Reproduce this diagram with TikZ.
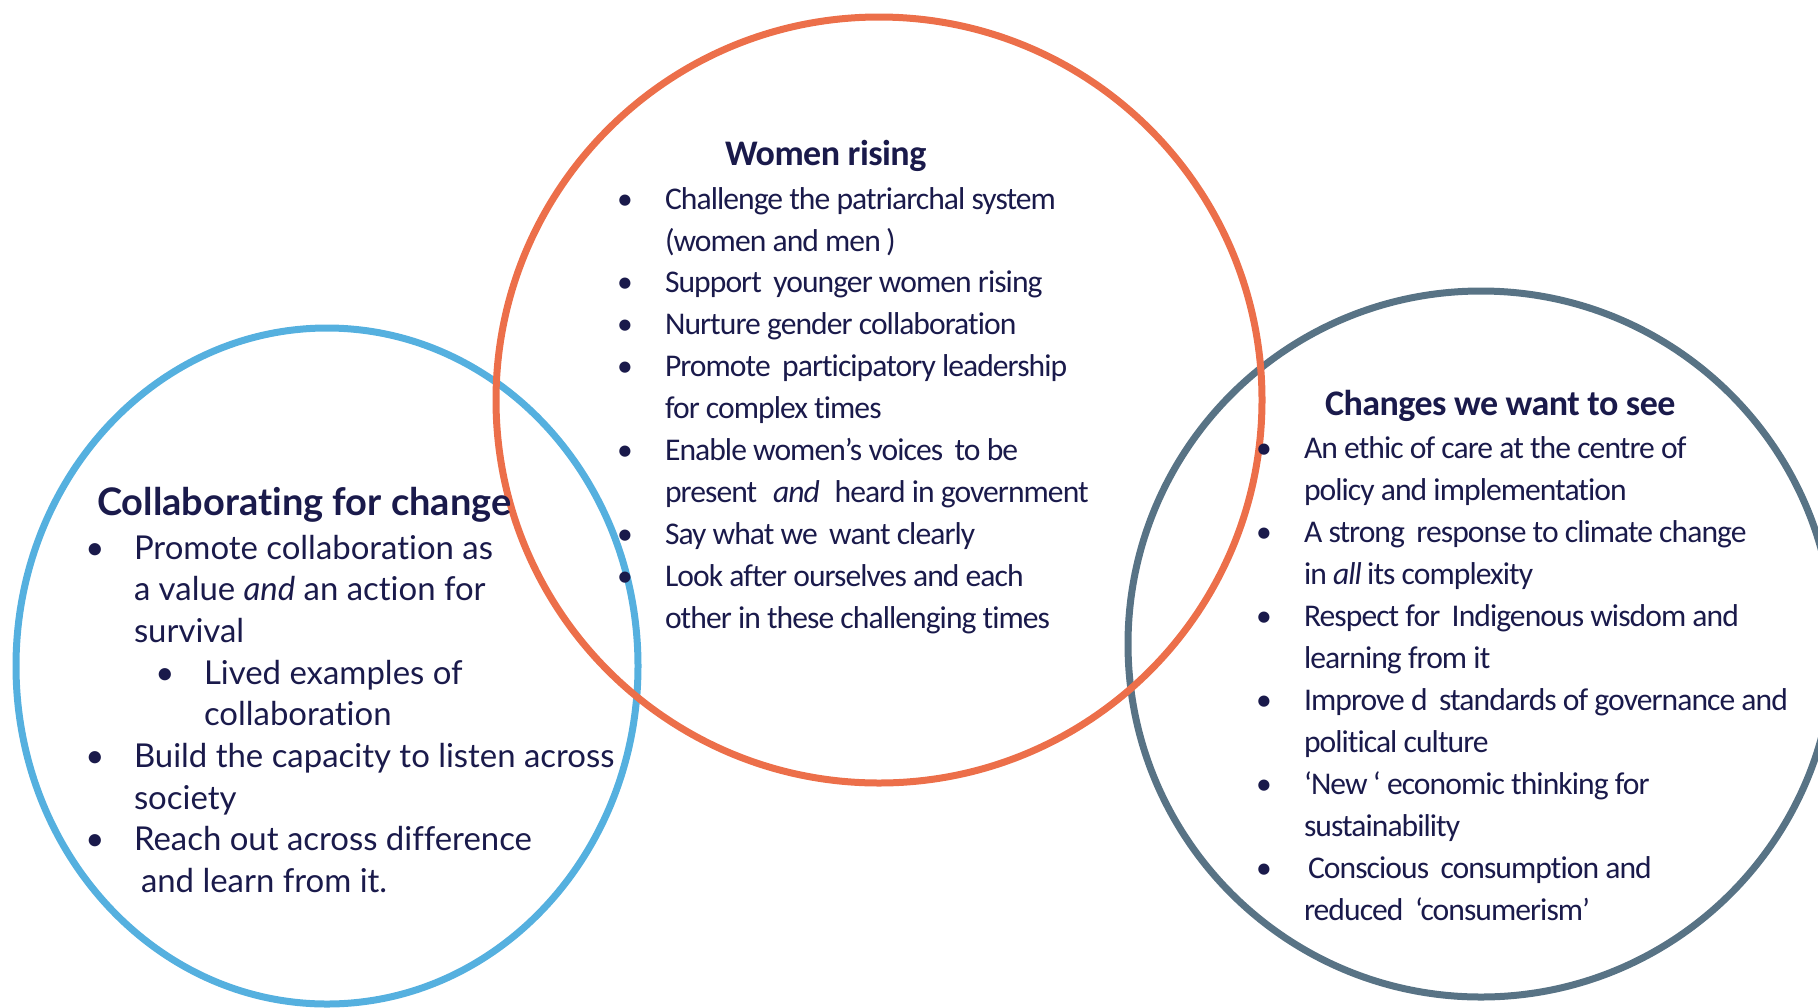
\documentclass[tikz,border=0pt]{standalone}
\usepackage{fontspec}
% Body and headings of the two right-hand circles: Calibri metrics, tight tracking
\newfontfamily\bodyfont[LetterSpace=-3, Ligatures=NoCommon]{Carlito}
\newfontfamily\headfont[LetterSpace=-1.5, Ligatures=NoCommon]{Carlito}
% Humanist sans for the left-hand circle
\newfontfamily\humfont[Ligatures=NoCommon]{Lato}

\definecolor{ink}{HTML}{1A1A4B}
\definecolor{ringorange}{HTML}{EC6F4A}
\definecolor{ringblue}{HTML}{55B0DF}
\definecolor{ringgray}{HTML}{587385}

\begin{document}
\begin{tikzpicture}[x=0.5pt, y=-0.5pt,
  ring/.style={line width=3.5pt},
  txt/.style={anchor=base west, inner sep=0pt, outer sep=0pt, text=ink},
  bul/.style={anchor=base, inner sep=0pt, outer sep=0pt, text=ink},
  humtitle/.style={txt, font=\humfont\bfseries\fontsize{19}{22}\selectfont},
  humbody/.style={txt, font=\humfont\fontsize{16.45}{20}\selectfont},
  humbul/.style={bul, font=\humfont\fontsize{16.45}{20}\selectfont},
  caltitle/.style={txt, font=\headfont\bfseries\fontsize{18}{21}\selectfont},
  calbody/.style={txt, font=\bodyfont\fontsize{15.8}{19}\selectfont},
  calbul/.style={bul, font=\bodyfont\fontsize{15.8}{19}\selectfont}]

\useasboundingbox (0,0) rectangle (1818,1007);

% the three circles
\draw[ring, draw=ringblue] (327,666) ellipse [x radius=311, y radius=338];
\draw[ring, draw=ringgray] (1481,644) circle [radius=353];
\draw[ring, draw=ringorange] (879,400) circle [radius=383];

% ---- Collaborating for change ----
\node[humtitle] (ct) at (97,515) {Collaborating for change};
\node[humbul] (cb1) at (95,559) {•};
\node[humbody] (c1) at (134,559) {Promote collaboration as};
\node[humbody] (c2) at (134,600.7) {a value \textit{and} an action for};
\node[humbody] (c3) at (134,642.4) {survival};
\node[humbul] (cb2) at (165,684.1) {•};
\node[humbody] (c4) at (204,684.1) {Lived examples of};
\node[humbody] (c5) at (204,725.8) {collaboration};
\node[humbul] (cb3) at (95,767.5) {•};
\node[humbody] (c6) at (134,767.5) {Build the capacity to listen across};
\node[humbody] (c7) at (134,809.2) {society};
\node[humbul] (cb4) at (95,850.9) {•};
\node[humbody] (c8) at (134,850.9) {Reach out across difference};
\node[humbody] (c9) at (141,892.6) {and learn from it.};

% ---- Women rising ----
\node[caltitle] (wt) at (725,165) {Women rising};
\node[calbul] (wb1) at (625,209) {•};
\node[calbody] (w1) at (665,209) {Challenge the patriarchal system};
\node[calbody] (w2) at (665,251) {(women and men\,)};
\node[calbul] (wb2) at (625,292) {•};
\node[calbody] (w3) at (665,292) {Support\, younger women rising};
\node[calbul] (wb3) at (625,334) {•};
\node[calbody] (w4) at (665,334) {Nurture gender collaboration};
\node[calbul] (wb4) at (625,376) {•};
\node[calbody] (w5) at (665,376) {Promote\, participatory leadership};
\node[calbody] (w6) at (665,418) {for complex times};
\node[calbul] (wb5) at (625,460) {•};
\node[calbody] (w7) at (665,460) {Enable women’s voices\, to be};
\node[calbody] (w8) at (665,502) {present\enspace\textit{and}\enspace heard in government};
\node[calbul] (wb6) at (625,544) {•};
\node[calbody] (w9) at (665,544) {Say what we\, want clearly};
\node[calbul] (wb7) at (625,586) {•};
\node[calbody] (w10) at (665,586) {Look after ourselves and each};
\node[calbody] (w11) at (665,628) {other in these challenging times};

% ---- Changes we want to see ----
\node[caltitle] (gt) at (1325,415) {Changes we want to see};
\node[calbul] (gb1) at (1264,458) {•};
\node[calbody] (g1) at (1304,458) {An ethic of care at the centre of};
\node[calbody] (g2) at (1304,500) {policy and implementation};
\node[calbul] (gb2) at (1264,542) {•};
\node[calbody] (g3) at (1304,542) {A strong\, response to climate change};
\node[calbody] (g4) at (1304,584) {in \textit{all} its complexity};
\node[calbul] (gb3) at (1264,626) {•};
\node[calbody] (g5) at (1304,626) {Respect for\, Indigenous wisdom and};
\node[calbody] (g6) at (1304,668) {learning from it};
\node[calbul] (gb4) at (1264,710) {•};
\node[calbody] (g7) at (1304,710) {Improve d\, standards of governance and};
\node[calbody] (g8) at (1304,752) {political culture};
\node[calbul] (gb5) at (1264,794) {•};
\node[calbody] (g9) at (1304,794) {‘New\,‘ economic thinking for};
\node[calbody] (g10) at (1304,836) {sustainability};
\node[calbul] (gb6) at (1264,878) {•};
\node[calbody] (g11) at (1308,878) {Conscious\, consumption and};
\node[calbody] (g12) at (1304,920) {reduced\, ‘consumerism’};

\end{tikzpicture}
\end{document}
